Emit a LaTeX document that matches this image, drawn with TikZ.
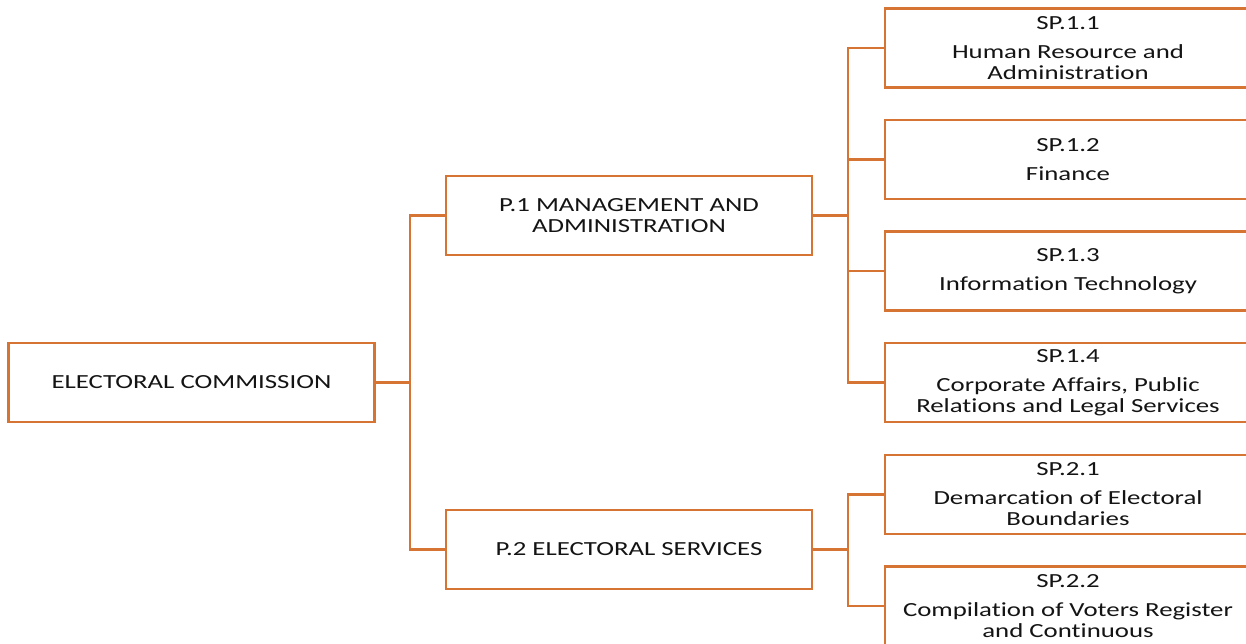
\documentclass[tikz,border=0pt]{standalone}
\usepackage{fontspec}
\setmainfont[FakeStretch=1.34,Ligatures=NoCommon]{Carlito}
\definecolor{boxorange}{RGB}{214,116,52}
\definecolor{txt}{RGB}{20,20,20}
\begin{document}
\begin{tikzpicture}[x=1pt,y=-1pt,
  box/.style={draw=boxorange, line width=2.2pt, fill=white, rectangle, inner sep=0pt,
    text=txt, align=center, font=\fontsize{20}{21}\selectfont},
  mainbox/.style={box, minimum width=366pt, minimum height=79pt},
  subbox/.style={box, minimum width=366pt, minimum height=79pt},
  conn/.style={draw=boxorange, line width=2.2pt}]
\useasboundingbox (0,0) rectangle (1246,643);
\clip (0,0) rectangle (1246,643);
\fill[white] (0,0) rectangle (1246,643);
% main boxes
\node[mainbox] (ec) at (191.5,382.5) {ELECTORAL COMMISSION};
\node[mainbox] (p1) at (629,215.5) {P.1 MANAGEMENT AND\\ADMINISTRATION};
\node[mainbox] (p2) at (629,549.5) {P.2 ELECTORAL SERVICES};
% sub boxes
\node[subbox] (s11) at (1068,48) {SP.1.1\\[8pt]Human Resource and\\Administration};
\node[subbox] (s12) at (1068,159.5) {SP.1.2\\[8pt]Finance};
\node[subbox] (s13) at (1068,271) {SP.1.3\\[8pt]Information Technology};
\node[subbox] (s14) at (1068,382.5) {SP.1.4\\[8pt]Corporate Affairs, Public\\Relations and Legal Services};
\node[subbox] (s21) at (1068,494.5) {SP.2.1\\[8pt]Demarcation of Electoral\\Boundaries};
\node[subbox] (s22) at (1068,606) {SP.2.2\\[8pt]Compilation of Voters Register\\and Continuous};
% junction coordinates
\coordinate (j0) at (410,382.5);
\coordinate (j1) at (848,215.5);
\coordinate (j2) at (848,549.5);
% connectors
\draw[conn] (ec.east) -- (j0);
\draw[conn] (p1.west) -| (j0) |- (p2.west);
\draw[conn] (p1.east) -- (j1);
\draw[conn] (s11.west) -| (j1);
\draw[conn] (s12.west) -| (j1);
\draw[conn] (s13.west) -| (j1);
\draw[conn] (s14.west) -| (j1);
\draw[conn] (p2.east) -- (j2);
\draw[conn] (s21.west) -| (j2);
\draw[conn] (s22.west) -| (j2);
\end{tikzpicture}
\end{document}
